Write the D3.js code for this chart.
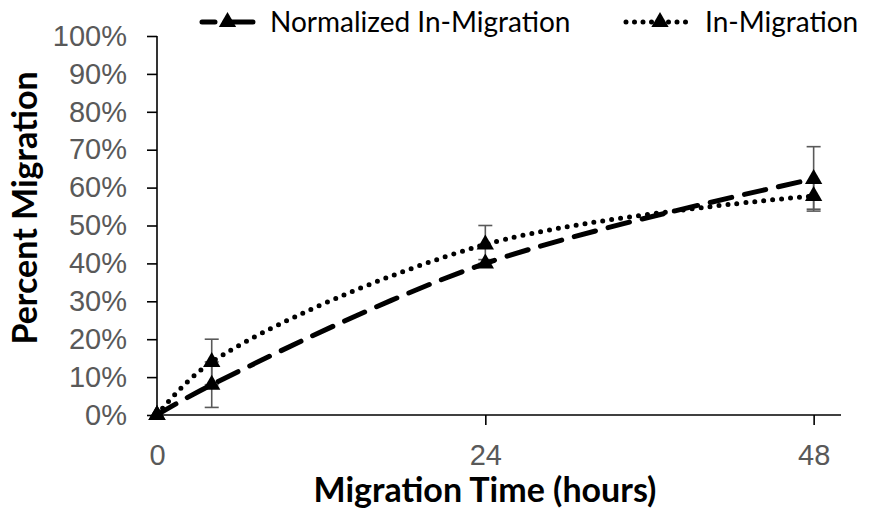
<!DOCTYPE html>
<html>
<head>
<meta charset="utf-8">
<script src="https://cdn.jsdelivr.net/npm/d3@7"></script>
<style>
  body { margin: 0; background: #fff; }
  svg { display: block; font-family: Lato, "Open Sans", sans-serif; }
</style>
</head>
<body>
<svg id="chart" width="871" height="511"></svg>
<script>
// values
const hours = [0, 4, 24, 48];
const normalized = [0, 8, 40, 62.3];
const normalizedErr = [0, 6, 1, 8.5];
const inMigration = [0, 14, 45, 57.8];
const inMigrationErr = [0, 6, 5, 3.5];
const xTicks = [0, 24, 48];
const yTicks = [0, 10, 20, 30, 40, 50, 60, 70, 80, 90, 100];

const series = [
    { name: "Normalized In-Migration", values: normalized, err: normalizedErr, dash: "22,13" },
    { name: "In-Migration", values: inMigration, err: inMigrationErr, dash: "0,9" }
];

const svg = d3.select("#chart");
const x = d3.scaleLinear().domain([0, 50]).range([157, 841]);
const y = d3.scaleLinear().domain([0, 100]).range([415, 36]);

// y axis
const yAxis = svg.append("g")
    .attr("transform", `translate(${x(0)},0)`)
    .call(d3.axisLeft(y).tickValues(yTicks).tickSize(10).tickPadding(20).tickFormat(d => d + "%"));
yAxis.selectAll("line, path").attr("stroke", "#000").attr("stroke-width", 1.6);
yAxis.select(".domain").attr("d", `M0,${y(100)}V${y(0)}`);
yAxis.selectAll("text").attr("fill", "#595959").attr("font-size", 29);

// x axis
const xAxis = svg.append("g")
    .attr("transform", `translate(0,${y(0)})`)
    .call(d3.axisBottom(x).tickValues(xTicks).tickSize(10).tickPadding(19).tickFormat(d => d));
xAxis.selectAll("line, path").attr("stroke", "#000").attr("stroke-width", 1.6);
xAxis.select(".domain").attr("d", `M${x(0)},0H${x(50)}`);
xAxis.selectAll(".tick").filter(d => d === 0).select("line").remove();
xAxis.selectAll("text").attr("fill", "#595959").attr("font-size", 29);

// axis titles
svg.append("text")
    .attr("transform", `translate(37,208) rotate(-90)`)
    .attr("text-anchor", "middle")
    .attr("font-size", 34).attr("font-weight", "bold")
    .text("Percent Migration");
svg.append("text")
    .attr("x", 485).attr("y", 502)
    .attr("text-anchor", "middle")
    .attr("font-size", 34).attr("font-weight", "bold")
    .text("Migration Time (hours)");

// error bars
series.forEach(s => {
    const g = svg.append("g").attr("stroke", "#595959").attr("stroke-width", 1.6);
    hours.forEach((h, i) => {
        if (!s.err[i]) return;
        const lo = y(s.values[i] - s.err[i]), hi = y(s.values[i] + s.err[i]);
        g.append("line").attr("x1", x(h)).attr("x2", x(h)).attr("y1", lo).attr("y2", hi);
        g.append("line").attr("x1", x(h) - 7).attr("x2", x(h) + 7).attr("y1", lo).attr("y2", lo);
        g.append("line").attr("x1", x(h) - 7).attr("x2", x(h) + 7).attr("y1", hi).attr("y2", hi);
    });
});

// smoothed lines
const line = d3.line()
    .x((d, i) => x(hours[i]))
    .y(d => y(d))
    .curve(d3.curveCatmullRom);

const tri = d3.symbol().type(d3.symbolTriangle).size(130);

series.forEach(s => {
    svg.append("path")
        .attr("d", line(s.values))
        .attr("fill", "none")
        .attr("stroke", "#000")
        .attr("stroke-width", 5)
        .attr("stroke-dasharray", s.dash)
        .attr("stroke-linecap", "round");
    svg.append("g").selectAll("path").data(s.values).join("path")
        .attr("transform", (d, i) => `translate(${x(hours[i])},${y(d)})`)
        .attr("d", tri)
        .attr("fill", "#000");
});

// legend
const legendItems = [
    { s: series[0], x: 202, w: 51, dash: "13,10,40", tx: 270 },
    { s: series[1], x: 626, w: 68, dash: "0,8.5", tx: 705 }
];
legendItems.forEach(it => {
    const g = svg.append("g").attr("transform", `translate(${it.x},22)`);
    g.append("line").attr("x1", 0).attr("x2", it.w)
        .attr("stroke", "#000").attr("stroke-width", 5)
        .attr("stroke-dasharray", it.dash).attr("stroke-linecap", "round");
    g.append("path").attr("transform", `translate(${it.w / 2},0)`).attr("d", tri).attr("fill", "#000");
    g.append("text").attr("x", it.tx - it.x).attr("y", 10)
        .attr("font-size", 28).attr("fill", "#000")
        .text(it.s.name);
});
</script>
</body>
</html>
